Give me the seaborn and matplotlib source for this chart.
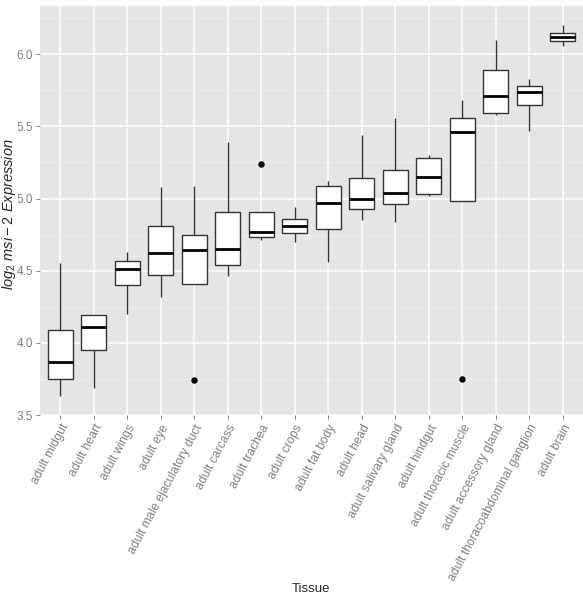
import numpy as np
import pandas as pd
import matplotlib
matplotlib.use("Agg")
import matplotlib.pyplot as plt
from matplotlib.ticker import MultipleLocator
import seaborn as sns

# Tissues in plotted order
tissues = ["adult midgut", "adult heart", "adult wings", "adult eye",
           "adult male ejaculatory duct", "adult carcass", "adult trachea",
           "adult crops", "adult fat body", "adult head", "adult salivary gland",
           "adult hindgut", "adult thoracic muscle", "adult accessory gland",
           "adult thoracoabdominal ganglion", "adult brain"]

# Box statistics (log2 expression)
whisker_low = [3.63, 3.69, 4.20, 4.32, 4.41, 4.46, 4.71, 4.70, 4.56, 4.85, 4.84, 5.02, 4.98, 5.58, 5.47, 6.06]
q1 = [3.75, 3.95, 4.40, 4.47, 4.41, 4.54, 4.73, 4.76, 4.79, 4.93, 4.96, 5.03, 4.98, 5.59, 5.65, 6.09]
median = [3.87, 4.11, 4.51, 4.62, 4.64, 4.65, 4.77, 4.81, 4.97, 5.00, 5.04, 5.15, 5.46, 5.71, 5.74, 6.12]
q3 = [4.09, 4.19, 4.57, 4.81, 4.75, 4.91, 4.91, 4.86, 5.09, 5.14, 5.20, 5.28, 5.56, 5.89, 5.78, 6.15]
whisker_high = [4.55, 4.19, 4.63, 5.08, 5.09, 5.39, 4.91, 4.94, 5.12, 5.44, 5.56, 5.30, 5.68, 6.10, 5.83, 6.20]
outlier_low = [None, None, None, None, 3.74, None, None, None, None, None, None, None, 3.75, None, None, None]
outlier_high = [None, None, None, None, None, None, 5.24, None, None, None, None, None, None, None, None, None]

# nine observations per tissue reproducing the quartiles/whiskers above
rows = []
for i, t in enumerate(tissues):
    lo = outlier_low[i] if outlier_low[i] is not None else whisker_low[i]
    hi = outlier_high[i] if outlier_high[i] is not None else whisker_high[i]
    vals = [lo, whisker_low[i], q1[i], q1[i], median[i], q3[i], q3[i], whisker_high[i], hi]
    rows += [(t, v) for v in vals]
df = pd.DataFrame(rows, columns=["Tissue", "expr"])

sns.set_style("darkgrid")
plt.rcParams["font.family"] = ["Liberation Sans", "DejaVu Sans"]
plt.rcParams["mathtext.fontset"] = "custom"
plt.rcParams["mathtext.it"] = "Liberation Sans:italic"
plt.rcParams["mathtext.rm"] = "Liberation Sans"

fig = plt.figure(figsize=(5.83, 5.94), dpi=100)
ax = fig.add_axes([40 / 583, 1 - 415 / 594, 543 / 583, 409 / 594])
ax.set_facecolor("#E5E5E5")

sns.boxplot(data=df, x="Tissue", y="expr", order=tissues, ax=ax,
            color="white", saturation=1, linecolor="#333333", linewidth=1.0,
            width=0.75, showcaps=False,
            medianprops={"linewidth": 2.0, "color": "black"},
            flierprops={"marker": "o", "markerfacecolor": "black",
                        "markeredgecolor": "black", "markersize": 3.6})

ax.set_xlim(-0.6, len(tissues) - 0.4)
ax.set_ylim(3.5, 6.334)
ax.yaxis.set_minor_locator(MultipleLocator(0.25))
ax.set_yticks([3.5, 4.0, 4.5, 5.0, 5.5, 6.0])
ax.set_yticklabels(["3.5", "4.0", "4.5", "5.0", "5.5", "6.0"])

ax.grid(which="major", color="white", linewidth=1.1)
ax.grid(which="minor", axis="y", color="#F2F2F2", linewidth=0.5)
ax.set_axisbelow(True)
for s in ax.spines.values():
    s.set_visible(False)

ax.tick_params(axis="both", which="major", length=3.2, width=0.7, color="#7F7F7F",
               labelcolor="#7F7F7F", pad=2, left=True, bottom=True)
ax.tick_params(axis="y", which="major", labelsize=8.5)
ax.tick_params(axis="x", which="major", labelsize=8.7)
ax.tick_params(axis="y", which="minor", length=0)
plt.setp(ax.get_xticklabels(), rotation=62, ha="right", rotation_mode="anchor")

ax.set_xlabel("Tissue", fontsize=9.5)
ax.xaxis.set_label_coords(0.5, -0.41)
ax.set_ylabel(r"$log_2\ msi-2\ Expression$", fontsize=10.5)
ax.yaxis.set_label_coords(-0.041, 0.49)

fig.savefig("out.png", dpi=100)
